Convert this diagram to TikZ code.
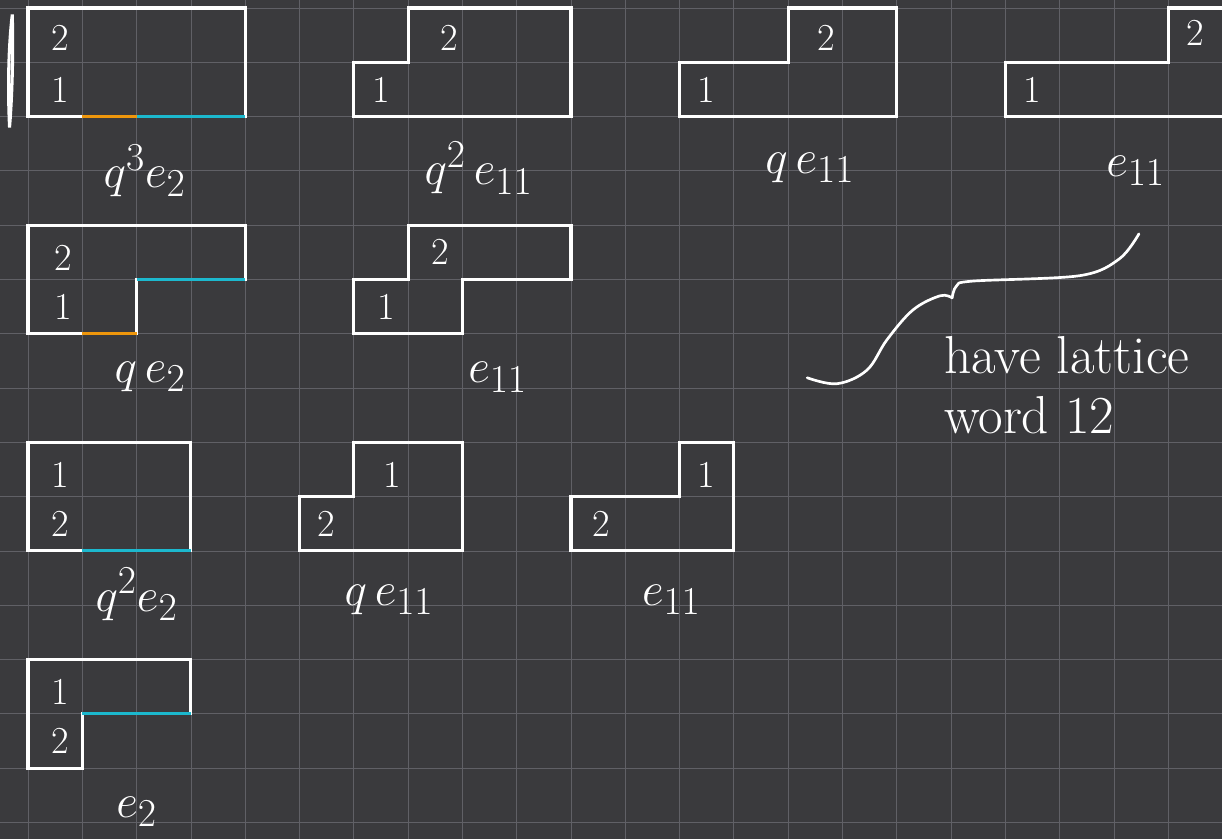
\documentclass[tikz,border=0pt]{standalone}
\definecolor{board}{RGB}{58,58,61}
\definecolor{gridc}{RGB}{96,96,102}
\definecolor{orng}{RGB}{238,150,12}
\definecolor{tcyan}{RGB}{28,184,206}
\begin{document}
\begin{tikzpicture}[
    tab/.style={white, line width=1.6pt},
    num/.style={text=white, font=\fontsize{20}{24}\selectfont},
    wt/.style={text=white, font=\fontsize{28}{32}\selectfont}]
    \useasboundingbox (-0.516,0.147) rectangle (21.99,-15.30);
    \clip (-0.516,0.147) rectangle (21.99,-15.30);
    \fill[board] (-0.516,0.147) rectangle (21.99,-15.30);
    \draw[gridc, line width=0.4pt] (-0.516,-15.30) grid (21.99,0.147);
    % first row
    \draw[tab] (0,0) rectangle (4,-2);
    \draw[tab] (6,-1) -- (7,-1) -- (7,0) -- (10,0) -- (10,-2) -- (6,-2) -- cycle;
    \draw[tab] (12,-1) -- (14,-1) -- (14,0) -- (16,0) -- (16,-2) -- (12,-2) -- cycle;
    \draw[tab] (22.3,0) -- (21,0) -- (21,-1) -- (18,-1) -- (18,-2) -- (22.3,-2);
    \draw[orng, line width=1.6pt] (1,-2) -- (2,-2);
    \draw[tcyan, line width=1.6pt] (2,-2) -- (4,-2);
    \draw[tab, line width=1.6pt] (-0.29,-0.12) .. controls (-0.37,-0.8) and (-0.37,-1.6) .. (-0.34,-2.2)
        .. controls (-0.29,-1.6) and (-0.27,-0.8) .. cycle;
    \node[num] (a2) at (0.6,-0.55) {2};
    \node[num] (a1) at (0.6,-1.5) {1};
    \node[num] (b2) at (7.75,-0.55) {2};
    \node[num] (b1) at (6.5,-1.5) {1};
    \node[num] (c2) at (14.7,-0.55) {2};
    \node[num] (c1) at (12.5,-1.5) {1};
    \node[num] (d2) at (21.5,-0.45) {2};
    \node[num] (d1) at (18.5,-1.5) {1};
    \node[wt] (la) at (2.15,-3.0) {$q^3e_2$};
    \node[wt] (lb) at (8.3,-2.95) {$q^2\,e_{11}$};
    \node[wt] (lc) at (14.4,-2.95) {$q\,e_{11}$};
    \node[wt] (ld) at (20.4,-3.0) {$e_{11}$};
    % second row
    \draw[tab] (0,-4) -- (4,-4) -- (4,-5) -- (2,-5) -- (2,-6) -- (0,-6) -- cycle;
    \draw[tab] (6,-5) -- (7,-5) -- (7,-4) -- (10,-4) -- (10,-5) -- (8,-5) -- (8,-6) -- (6,-6) -- cycle;
    \draw[orng, line width=1.6pt] (1,-6) -- (2,-6);
    \draw[tcyan, line width=1.6pt] (2,-5) -- (4,-5);
    \node[num] (e2) at (0.65,-4.6) {2};
    \node[num] (e1) at (0.65,-5.5) {1};
    \node[num] (f2) at (7.6,-4.5) {2};
    \node[num] (f1) at (6.6,-5.5) {1};
    \node[wt] (le) at (2.25,-6.8) {$q\,e_2$};
    \node[wt] (lf) at (8.65,-6.8) {$e_{11}$};
    \draw[tab, line width=1.4pt, line cap=round] plot[smooth, tension=0.55] coordinates
        {(20.46,-4.16) (20.1,-4.62) (19.37,-4.93) (17.4,-5.03) (17.1,-5.12) (17.02,-5.34)};
    \draw[tab, line width=1.4pt, line cap=round] plot[smooth, tension=0.6] coordinates
        {(17.02,-5.34) (16.80,-5.30) (16.30,-5.56) (15.82,-6.11) (15.45,-6.67) (14.90,-6.92) (14.35,-6.81)};
    \node[wt, anchor=west] (lw1) at (16.75,-6.4) {have lattice};
    \node[wt, anchor=west] (lw2) at (16.75,-7.5) {word 12};
    % third row
    \draw[tab] (0,-8) rectangle (3,-10);
    \draw[tab] (5,-9) -- (6,-9) -- (6,-8) -- (8,-8) -- (8,-10) -- (5,-10) -- cycle;
    \draw[tab] (10,-9) -- (12,-9) -- (12,-8) -- (13,-8) -- (13,-10) -- (10,-10) -- cycle;
    \draw[tcyan, line width=1.6pt] (1,-10) -- (3,-10);
    \node[num] (g1) at (0.6,-8.6) {1};
    \node[num] (g2) at (0.6,-9.5) {2};
    \node[num] (h1) at (6.7,-8.6) {1};
    \node[num] (h2) at (5.5,-9.5) {2};
    \node[num] (i1) at (12.5,-8.6) {1};
    \node[num] (i2) at (10.55,-9.5) {2};
    \node[wt] (lg) at (2.0,-10.8) {$q^2e_2$};
    \node[wt] (lh) at (6.65,-10.9) {$q\,e_{11}$};
    \node[wt] (li) at (11.85,-10.9) {$e_{11}$};
    % fourth row
    \draw[tab] (0,-12) -- (3,-12) -- (3,-13) -- (1,-13) -- (1,-14) -- (0,-14) -- cycle;
    \draw[tcyan, line width=1.6pt] (1,-13) -- (3,-13);
    \node[num] (j1) at (0.6,-12.6) {1};
    \node[num] (j2) at (0.6,-13.5) {2};
    \node[wt] (lj) at (2.0,-14.8) {$e_2$};
\end{tikzpicture}
\end{document}
